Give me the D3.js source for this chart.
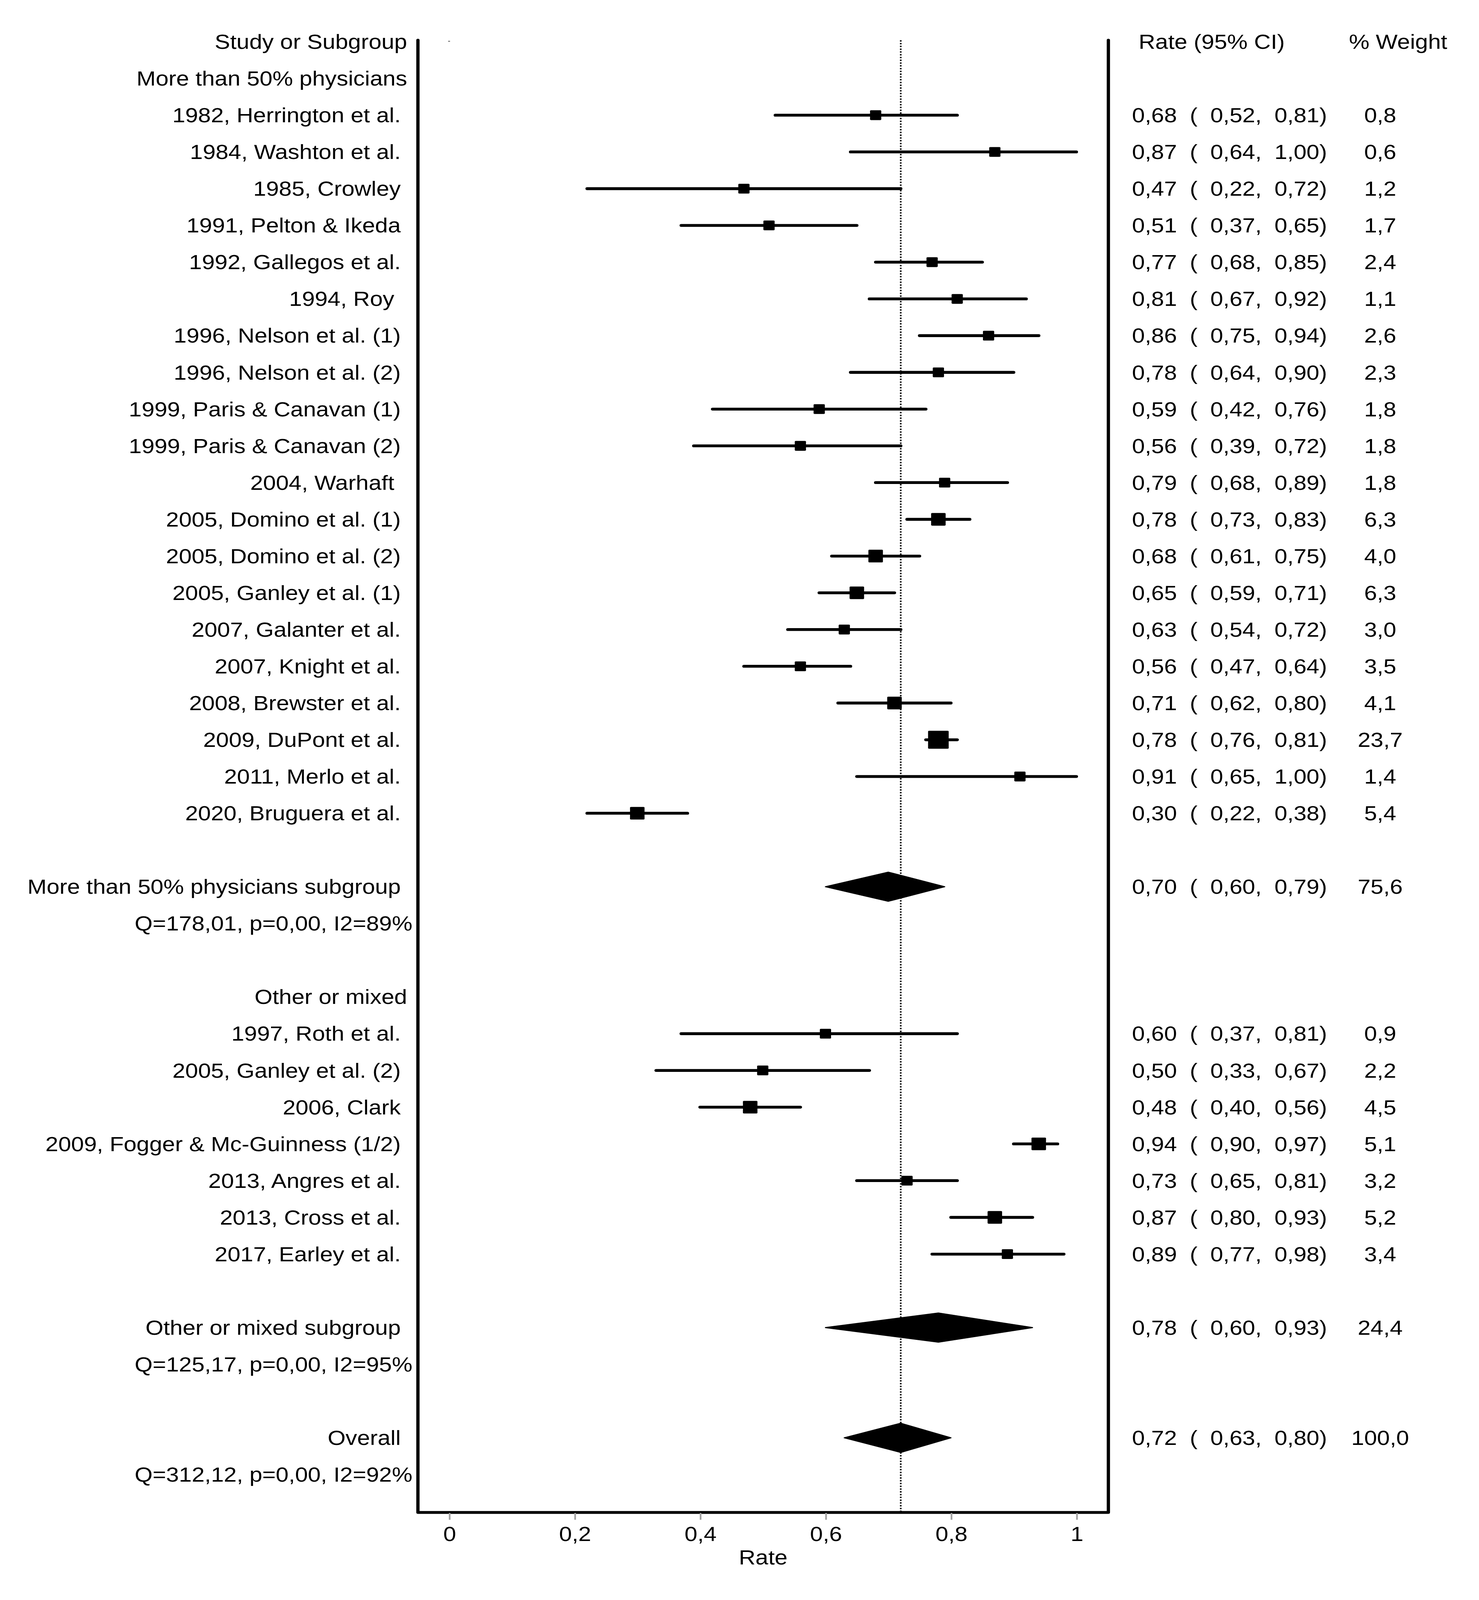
<!DOCTYPE html>
<html>
<head>
<meta charset="utf-8">
<script src="https://cdn.jsdelivr.net/npm/d3@7"></script>
<style>
  html, body { margin: 0; padding: 0; background: #fff; overflow: hidden; }
  svg { display: block; }
  text { font-family: "Liberation Sans", Arial, sans-serif; font-size: 19.7px; fill: #000; }
</style>
</head>
<body>
<div id="chart"></div>
<script>
// ---- data ----
const groupLabels = ["More than 50% physicians", "Other or mixed"];

const studies1 = ["1982, Herrington et al. ", "1984, Washton et al. ", "1985, Crowley ", "1991, Pelton & Ikeda ",
  "1992, Gallegos et al. ", "1994, Roy  ", "1996, Nelson et al. (1) ", "1996, Nelson et al. (2) ",
  "1999, Paris & Canavan (1) ", "1999, Paris & Canavan (2) ", "2004, Warhaft  ", "2005, Domino et al. (1) ",
  "2005, Domino et al. (2) ", "2005, Ganley et al. (1) ", "2007, Galanter et al. ", "2007, Knight et al. ",
  "2008, Brewster et al. ", "2009, DuPont et al. ", "2011, Merlo et al. ", "2020, Bruguera et al. "];
const rate1   = [0.68, 0.87, 0.47, 0.51, 0.77, 0.81, 0.86, 0.78, 0.59, 0.56, 0.79, 0.78, 0.68, 0.65, 0.63, 0.56, 0.71, 0.78, 0.91, 0.30];
const low1    = [0.52, 0.64, 0.22, 0.37, 0.68, 0.67, 0.75, 0.64, 0.42, 0.39, 0.68, 0.73, 0.61, 0.59, 0.54, 0.47, 0.62, 0.76, 0.65, 0.22];
const high1   = [0.81, 1.00, 0.72, 0.65, 0.85, 0.92, 0.94, 0.90, 0.76, 0.72, 0.89, 0.83, 0.75, 0.71, 0.72, 0.64, 0.80, 0.81, 1.00, 0.38];
const weight1 = [0.8, 0.6, 1.2, 1.7, 2.4, 1.1, 2.6, 2.3, 1.8, 1.8, 1.8, 6.3, 4.0, 6.3, 3.0, 3.5, 4.1, 23.7, 1.4, 5.4];

const studies2 = ["1997, Roth et al. ", "2005, Ganley et al. (2) ", "2006, Clark ", "2009, Fogger & Mc-Guinness (1/2) ",
  "2013, Angres et al. ", "2013, Cross et al. ", "2017, Earley et al. "];
const rate2   = [0.60, 0.50, 0.48, 0.94, 0.73, 0.87, 0.89];
const low2    = [0.37, 0.33, 0.40, 0.90, 0.65, 0.80, 0.77];
const high2   = [0.81, 0.67, 0.56, 0.97, 0.81, 0.93, 0.98];
const weight2 = [0.9, 2.2, 4.5, 5.1, 3.2, 5.2, 3.4];

const subgroupLabels = ["More than 50% physicians subgroup ", "Other or mixed subgroup "];
const subgroupRate   = [0.70, 0.78];
const subgroupLow    = [0.60, 0.60];
const subgroupHigh   = [0.79, 0.93];
const subgroupWeight = [75.6, 24.4];
const heterogeneity  = ["Q=178,01, p=0,00, I2=89%", "Q=125,17, p=0,00, I2=95%"];

const overallLabel  = "Overall ";
const overallRate   = 0.72;
const overallLow    = 0.63;
const overallHigh   = 0.80;
const overallWeight = 100.0;
const overallQ      = "Q=312,12, p=0,00, I2=92%";

const xTicks = [0, 0.2, 0.4, 0.6, 0.8, 1];

// ---- layout ----
const W = 1262.333, H = 1568.667;
const frameLeft = 356.7, frameRight = 946, frameTop = 39.4, axisY = 1482.8;
const labelRight = 347.5, statRight = 352, ciLeft = 966.2, weightMid = 1178;

const x = d3.scaleLinear().domain([0, 1]).range([383.3, 918.7]);
const y = d3.scaleLinear().domain([0, 40]).range([40.9, 1481.7]);   // row index -> centre
const boxSize = d3.scaleThreshold().domain([3.75, 10]).range([9.6, 12.4, 17.6]);

const loc = d3.formatLocale({decimal: ",", thousands: ".", grouping: [3], currency: ["", ""]});
const f2 = loc.format(".2f"), f1 = loc.format(".1f"), fTick = loc.format("~g");

// build the rows
const groups = [
  {names: studies1, rate: rate1, low: low1, high: high1, weight: weight1},
  {names: studies2, rate: rate2, low: low2, high: high2, weight: weight2}
];
const rows = [];
let r = 1;
groups.forEach((g, gi) => {
  rows.push({row: r++, type: "group", label: groupLabels[gi]});
  g.names.forEach((n, i) => rows.push({row: r++, type: "study", label: n,
    rate: g.rate[i], low: g.low[i], high: g.high[i], weight: g.weight[i]}));
  r++;
  rows.push({row: r++, type: "summary", label: subgroupLabels[gi], rate: subgroupRate[gi],
    low: subgroupLow[gi], high: subgroupHigh[gi], weight: subgroupWeight[gi]});
  rows.push({row: r++, type: "stat", label: heterogeneity[gi]});
  r++;
});
rows.push({row: r++, type: "summary", label: overallLabel, rate: overallRate,
  low: overallLow, high: overallHigh, weight: overallWeight});
rows.push({row: r++, type: "stat", label: overallQ});

// the chart fills the whole visible window
const vw = window.innerWidth || 3787, vh = window.innerHeight || 4706;
const svg = d3.select("#chart").append("svg")
  .attr("width", vw).attr("height", vh)
  .attr("viewBox", `0 0 ${W} ${H}`)
  .attr("preserveAspectRatio", "none");

svg.append("rect").attr("width", W).attr("height", H).attr("fill", "#fff");

// frame
svg.append("path")
  .attr("d", `M${frameLeft},${frameTop}V${axisY}H${frameRight}V${frameTop}`)
  .attr("fill", "none").attr("stroke", "#000").attr("stroke-width", 2.8)
  .attr("stroke-linejoin", "round").attr("stroke-linecap", "round");

// tiny mark at zero on header row
svg.append("rect").attr("x", x(0) - 0.8).attr("y", 40.1).attr("width", 1.6).attr("height", 0.7).attr("fill", "#444");

// overall reference line
svg.append("line")
  .attr("x1", x(overallRate)).attr("x2", x(overallRate))
  .attr("y1", frameTop).attr("y2", axisY)
  .attr("stroke", "#000").attr("stroke-width", 1.4).attr("stroke-dasharray", "1.35 1.37");

// axis
const axis = d3.axisBottom(x).tickValues(xTicks).tickSize(6.7).tickFormat(fTick);
const gAxis = svg.append("g").attr("transform", `translate(0,${axisY + 0.5})`).call(axis);
gAxis.select(".domain").remove();
gAxis.selectAll(".tick line").attr("stroke", "#a0a0a0").attr("stroke-width", 1.45);
gAxis.selectAll(".tick text").attr("y", 1511 - axisY - 0.5).attr("dy", null).attr("fill", "#000");
gAxis.attr("font-family", null).attr("font-size", null);

svg.append("text").attr("x", (frameLeft + frameRight) / 2).attr("y", 1534)
  .attr("text-anchor", "middle").text("Rate");

// study CIs and boxes
const studyRows = rows.filter(d => d.type === "study");
svg.selectAll("line.ci").data(studyRows).enter().append("line")
  .attr("class", "ci")
  .attr("x1", d => x(d.low)).attr("x2", d => x(d.high))
  .attr("y1", d => y(d.row)).attr("y2", d => y(d.row))
  .attr("stroke", "#000").attr("stroke-width", 2.8).attr("stroke-linecap", "round");

svg.selectAll("rect.box").data(studyRows).enter().append("rect")
  .attr("class", "box")
  .attr("x", d => x(d.rate) - boxSize(d.weight) / 2)
  .attr("y", d => y(d.row) - boxSize(d.weight) / 2)
  .attr("width", d => boxSize(d.weight)).attr("height", d => boxSize(d.weight))
  .attr("rx", 0.8).attr("fill", "#000");

// summary diamonds
const sumRows = rows.filter(d => d.type === "summary");
const half = 14.3;
svg.selectAll("path.diamond").data(sumRows).enter().append("path")
  .attr("class", "diamond")
  .attr("d", d => {
    const c = y(d.row);
    return `M${x(d.low)},${c}L${x(d.rate)},${c - half}L${x(d.high)},${c}L${x(d.rate)},${c + half}Z`;
  })
  .attr("fill", "#000").attr("stroke", "#000").attr("stroke-width", 1).attr("stroke-linejoin", "round");

// left labels
svg.append("text").attr("x", labelRight).attr("y", y(0) + 7).attr("text-anchor", "end").text("Study or Subgroup");
svg.selectAll("text.lab").data(rows).enter().append("text")
  .attr("class", "lab")
  .attr("xml:space", "preserve").style("white-space", "pre")
  .attr("x", d => d.type === "stat" ? statRight : labelRight)
  .attr("y", d => y(d.row) + 7)
  .attr("text-anchor", "end")
  .text(d => d.label);

// right columns
svg.append("text").attr("x", 971.8).attr("y", y(0) + 7).text("Rate (95% CI)");
svg.append("text").attr("x", 1151.3).attr("y", y(0) + 7).text("% Weight");

const valRows = rows.filter(d => d.type === "study" || d.type === "summary");
svg.selectAll("text.ci").data(valRows).enter().append("text")
  .attr("class", "ci")
  .attr("xml:space", "preserve").style("white-space", "pre")
  .attr("x", ciLeft).attr("y", d => y(d.row) + 7)
  .text(d => `${f2(d.rate)}  (  ${f2(d.low)},  ${f2(d.high)})`);

svg.selectAll("text.wt").data(valRows).enter().append("text")
  .attr("class", "wt")
  .attr("x", weightMid).attr("y", d => y(d.row) + 7)
  .attr("text-anchor", "middle")
  .text(d => f1(d.weight));
</script>
</body>
</html>
